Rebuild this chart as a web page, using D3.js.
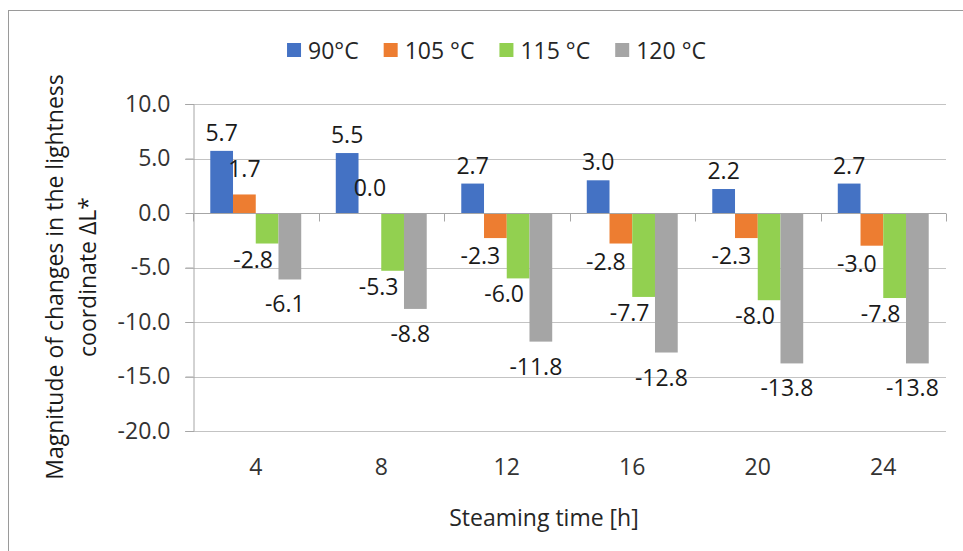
<!DOCTYPE html>
<html>
<head>
<meta charset="utf-8">
<script src="https://cdn.jsdelivr.net/npm/d3@7"></script>
<style>
  body { margin: 0; background: #fff; }
  text { font-family: "Open Sans", sans-serif; }
</style>
</head>
<body>
<div id="chart"></div>
<script>
// values
var categories = ["4", "8", "12", "16", "20", "24"];
var seriesNames = ["90°C", "105 °C", "115 °C", "120 °C"];
var s90  = [5.7, 5.5, 2.7, 3.0, 2.2, 2.7];
var s105 = [1.7, 0.0, -2.3, -2.8, -2.3, -3.0];
var s115 = [-2.8, -5.3, -6.0, -7.7, -8.0, -7.8];
var s120 = [-6.1, -8.8, -11.8, -12.8, -13.8, -13.8];
var yTicks = [-20, -15, -10, -5, 0, 5, 10];

var seriesValues = [s90, s105, s115, s120];
var colors = ["#4472C4", "#ED7D31", "#92D050", "#A5A5A5"];
// data label nudges per series (label style, not data)
var negShift = [0, -15, -14, -5];
var negDrop = [26, 26, 24, 33];
var posLift = [10, 17, 10, 10];

var width = 963, height = 551;
var plot = {left: 193, right: 946, top: 104, bottom: 431};
var fontSize = "23px";

var svg = d3.select("#chart")
            .append("svg")
              .attr("width", width)
              .attr("height", height);

// outer frame (runs off the picture at right and bottom)
svg.append("rect")
    .attr("x", 8.5).attr("y", 10.5)
    .attr("width", width).attr("height", height)
    .attr("fill", "#fff")
    .attr("stroke", "#9a9a9a");

var xScale = d3.scaleBand()
               .domain(categories)
               .range([plot.left, plot.right]);

var xInner = d3.scaleBand()
               .domain(seriesNames)
               .range([0, xScale.bandwidth()])
               .paddingOuter(0.76);

var yScale = d3.scaleLinear()
               .domain([-20, 10])
               .range([plot.bottom, plot.top]);

// gridlines
svg.selectAll("grid")
   .data(yTicks.filter(function(d){ return d !== 0; }))
   .enter()
   .append("line")
     .attr("x1", plot.left - 8)
     .attr("x2", plot.right)
     .attr("y1", function(d){ return Math.round(yScale(d)) + 0.5; })
     .attr("y2", function(d){ return Math.round(yScale(d)) + 0.5; })
     .attr("stroke", "#c3c3c3");

// y axis
var yAxis = svg.append("g")
   .attr("transform", "translate(" + (plot.left + 0.5) + ",0)")
   .call(d3.axisLeft(yScale)
           .tickValues(yTicks)
           .tickSize(8)
           .tickPadding(15)
           .tickFormat(function(d){ return d.toFixed(1); }));
yAxis.select(".domain").attr("stroke", "#a6a6a6");
yAxis.selectAll(".tick line").attr("stroke", "#a6a6a6");
yAxis.selectAll(".tick text")
     .attr("fill", "#333")
     .style("font-size", fontSize);

// bars
var groups = svg.selectAll("series")
   .data(seriesValues)
   .enter()
   .append("g")
     .attr("fill", function(d, i){ return colors[i]; });

groups.selectAll("rect")
   .data(function(d, i){
       return d.map(function(v, j){ return {s: i, cat: categories[j], value: v}; });
   })
   .enter()
   .append("rect")
     .attr("x", function(d){ return xScale(d.cat) + xInner(seriesNames[d.s]); })
     .attr("width", xInner.bandwidth())
     .attr("y", function(d){ return yScale(Math.max(0, d.value)); })
     .attr("height", function(d){ return Math.abs(yScale(d.value) - yScale(0)); });

// x axis along the zero line, labels low at the bottom
var zeroY = Math.round(yScale(0)) + 0.5;
svg.append("line")
   .attr("x1", plot.left).attr("x2", plot.right)
   .attr("y1", zeroY).attr("y2", zeroY)
   .attr("stroke", "#a6a6a6");

var bounds = categories.map(function(c){ return xScale(c); }).concat([plot.right]);
svg.selectAll("xticks")
   .data(bounds)
   .enter()
   .append("line")
     .attr("x1", function(d){ return Math.round(d) + 0.5; })
     .attr("x2", function(d){ return Math.round(d) + 0.5; })
     .attr("y1", zeroY)
     .attr("y2", zeroY + 8)
     .attr("stroke", "#a6a6a6");

svg.selectAll("xlabels")
   .data(categories)
   .enter()
   .append("text")
     .attr("x", function(d){ return xScale(d) + xScale.bandwidth() / 2; })
     .attr("y", 475)
     .attr("text-anchor", "middle")
     .attr("fill", "#333")
     .style("font-size", fontSize)
     .text(function(d){ return d; });

// data labels
groups.selectAll("labels")
   .data(function(d, i){
       return d.map(function(v, j){ return {s: i, cat: categories[j], value: v}; });
   })
   .enter()
   .append("text")
     .attr("x", function(d){
         var cx = xScale(d.cat) + xInner(seriesNames[d.s]) + xInner.bandwidth() / 2;
         return d.value < 0 ? cx + negShift[d.s] : cx;
     })
     .attr("y", function(d){
         return d.value < 0 ? yScale(d.value) + negDrop[d.s] : yScale(d.value) - posLift[d.s];
     })
     .attr("text-anchor", "middle")
     .attr("fill", "#1a1a1a")
     .style("font-size", fontSize)
     .text(function(d){ return d.value.toFixed(1); });

// axis titles
svg.append("text")
   .attr("x", 544)
   .attr("y", 526)
   .attr("text-anchor", "middle")
   .attr("fill", "#262626")
   .style("font-size", fontSize)
   .text("Steaming time [h]");

var yTitle = svg.append("text")
   .attr("transform", "translate(63,277) rotate(-90)")
   .attr("text-anchor", "middle")
   .attr("fill", "#1a1a1a")
   .style("font-size", fontSize);
yTitle.append("tspan").attr("x", 0).attr("dy", 0).text("Magnitude of changes in the lightness");
yTitle.append("tspan").attr("x", 0).attr("dy", 33).text("coordinate ΔL*");

// legend, laid out left to right and centred
var legend = svg.append("g");
var cursor = 0;
seriesNames.forEach(function(name, i){
    var item = legend.append("g").attr("transform", "translate(" + cursor + ",0)");
    item.append("rect")
        .attr("x", 0).attr("y", -7)
        .attr("width", 14).attr("height", 14)
        .attr("fill", colors[i]);
    var t = item.append("text")
        .attr("x", 21).attr("y", 8.5)
        .attr("fill", "#262626")
        .style("font-size", fontSize)
        .text(name);
    cursor += 21 + t.node().getComputedTextLength() + 25;
});
var legendWidth = cursor - 25;
legend.attr("transform", "translate(" + (496.5 - legendWidth / 2) + ",50)");
</script>
</body>
</html>
